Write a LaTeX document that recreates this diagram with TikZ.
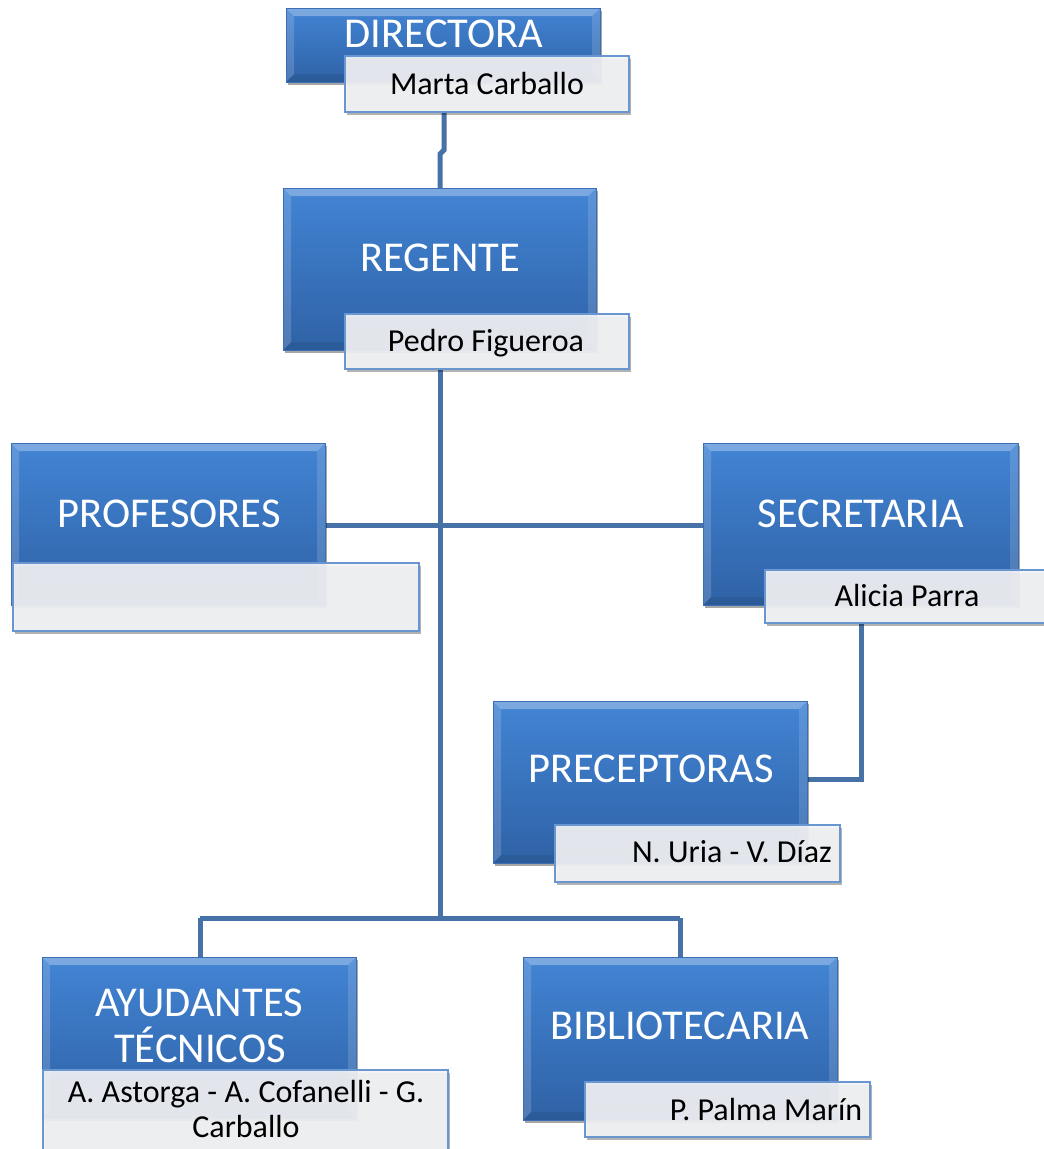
\documentclass[tikz,border=0pt]{standalone}
\usepackage{fontspec}
\setmainfont{Carlito}
\usetikzlibrary{shadows,calc}
\definecolor{btop}{RGB}{66,132,212}
\definecolor{bbot}{RGB}{47,98,166}
\definecolor{bedge}{RGB}{60,110,180}
\definecolor{lnc}{RGB}{70,114,168}
\definecolor{sborder}{RGB}{105,150,208}
\definecolor{sfill}{RGB}{243,244,246}
\newcommand\bevelpp{%
  \fill[white,opacity=.30] (path picture bounding box.north west) -- (path picture bounding box.north east)
     -- ([xshift=-8pt,yshift=-8pt]path picture bounding box.north east) -- ([xshift=8pt,yshift=-8pt]path picture bounding box.north west) -- cycle;
  \fill[white,opacity=.16] (path picture bounding box.north west) -- (path picture bounding box.south west)
     -- ([xshift=8pt,yshift=8pt]path picture bounding box.south west) -- ([xshift=8pt,yshift=-8pt]path picture bounding box.north west) -- cycle;
  \fill[white,opacity=.14] (path picture bounding box.north east) -- (path picture bounding box.south east)
     -- ([xshift=-8pt,yshift=8pt]path picture bounding box.south east) -- ([xshift=-8pt,yshift=-8pt]path picture bounding box.north east) -- cycle;
  \fill[black,opacity=.08] (path picture bounding box.south west) -- (path picture bounding box.south east)
     -- ([xshift=-8pt,yshift=8pt]path picture bounding box.south east) -- ([xshift=8pt,yshift=8pt]path picture bounding box.south west) -- cycle;
}
\tikzset{
  bluebox/.style={draw=bedge, line width=0.8pt, top color=btop, bottom color=bbot, inner sep=0pt,
     drop shadow={shadow xshift=2pt, shadow yshift=-3pt, opacity=.35, fill=black},
     path picture={\bevelpp}},
  subbox/.style={draw=sborder, line width=1.4pt, fill=sfill, fill opacity=.92, inner sep=0pt,
     drop shadow={shadow xshift=2pt, shadow yshift=-3pt, opacity=.3, fill=black}},
  titletext/.style={text=white, anchor=base, inner sep=0pt, font=\fontsize{42.5}{46}\selectfont},
  nametext/.style={text=black, anchor=base, inner sep=0pt, font=\fontsize{32}{36}\selectfont},
  conn/.style={draw=lnc, line width=5pt},
}
\begin{document}
\begin{tikzpicture}[x=1pt,y=-1pt]
\useasboundingbox[fill=white] (0,0) rectangle (1044,1149);

% connectors (behind boxes)
\coordinate (j0) at (444,112);
\coordinate (j1) at (444,150);
\coordinate (j2) at (440,154);
\coordinate (j3) at (440,188);
\coordinate (vtop) at (440,369);
\coordinate (bjoin) at (440,918);
\coordinate (bl) at (200,918);
\coordinate (br) at (680,918);
\coordinate (hl) at (325,525);
\coordinate (hr) at (703,525);
\coordinate (blend) at (200,957);
\coordinate (brend) at (680,957);
\coordinate (sdown) at (861,623);
\coordinate (scorner) at (861,779);
\coordinate (pend) at (807,779);

\draw[conn] (j0) -- (j1) -- (j2) -- (j3);
\draw[conn] (vtop) -- (bjoin);
\draw[conn] (hl) -- (hr);
\draw[conn] (bl) -- (br);
\draw[conn] (bl) -- (blend);
\draw[conn] (br) -- (brend);
\draw[conn] (sdown) -- (scorner) -- (pend);

% DIRECTORA
\node[bluebox, minimum width=314pt, minimum height=74pt] (dir) at (443,45) {};
\node[titletext] (dirt) at (444,47) {DIRECTORA};
\node[subbox, minimum width=284pt, minimum height=56pt] (dsub) at (487,84) {};
\node[nametext] (dsubt) at (487,94) {Marta Carballo};

% REGENTE
\node[bluebox, minimum width=313pt, minimum height=162pt] (reg) at (439.5,269) {};
\node[titletext] (regt) at (440,271) {REGENTE};
\node[subbox, minimum width=284pt, minimum height=55pt] (rsub) at (487,341.5) {};
\node[nametext] (rsubt) at (486,351) {Pedro Figueroa};

% PROFESORES
\node[bluebox, minimum width=314pt, minimum height=162pt] (prof) at (168,524) {};
\node[titletext] (proft) at (169,527) {PROFESORES};
\node[subbox, minimum width=406pt, minimum height=68pt] (psub) at (216,597) {};

% SECRETARIA
\node[bluebox, minimum width=315pt, minimum height=162pt] (sec) at (860.5,524) {};
\node[titletext] (sect) at (861,527) {SECRETARIA};
\node[subbox, minimum width=290pt, minimum height=53pt] (ssub) at (910,596.5) {};
\node[nametext] (ssubt) at (907,606) {Alicia Parra};

% PRECEPTORAS
\node[bluebox, minimum width=314pt, minimum height=162pt] (prec) at (650,782) {};
\node[titletext] (prect) at (651,782) {PRECEPTORAS};
\node[subbox, minimum width=285pt, minimum height=57pt] (prsub) at (697.5,853.5) {};
\node[nametext] (prsubt) at (732,862) {N. Uria - V. Díaz};

% AYUDANTES TECNICOS
\node[bluebox, minimum width=314pt, minimum height=161pt] (ayu) at (199,1037.5) {};
\node[titletext] (ayut1) at (199,1016) {AYUDANTES};
\node[titletext] (ayut2) at (200,1062) {TÉCNICOS};
\node[subbox, minimum width=405pt, minimum height=84pt] (asub) at (245.5,1112) {};
\node[nametext] (asubt1) at (246,1102) {A. Astorga - A. Cofanelli - G.};
\node[nametext] (asubt2) at (246,1137) {Carballo};

% BIBLIOTECARIA
\node[bluebox, minimum width=314pt, minimum height=163pt] (bib) at (680,1038.5) {};
\node[titletext] (bibt) at (680,1039) {BIBLIOTECARIA};
\node[subbox, minimum width=285pt, minimum height=55pt] (bsub) at (727.5,1109.5) {};
\node[nametext] (bsubt) at (766,1120) {P. Palma Marín};
\end{tikzpicture}
\end{document}
